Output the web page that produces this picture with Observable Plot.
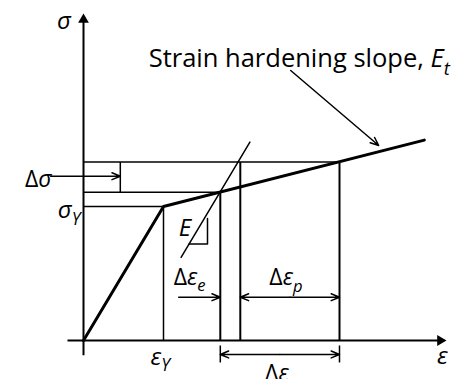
<!DOCTYPE html>
<html>
<head>
<meta charset="utf-8">
<script src="https://cdn.jsdelivr.net/npm/d3@7"></script>
<script src="https://cdn.jsdelivr.net/npm/@observablehq/plot@0.6"></script>
<style>
  html, body { margin: 0; padding: 0; background: #fff; }
  #chart svg { display: block; }
</style>
</head>
<body>
<div id="chart"></div>
<script>
// Bilinear stress–strain model (elastic + linear strain hardening).
// Strain and stress are normalised so that the yield point sits at (1, 1)
// and the elastic modulus E equals 1.

// Bilinear curve: origin -> yield point -> end of hardening branch
const curveStrain = [0, 1, 4.26];
const curveStress = [0, 1, 1.495];

// Yield point
const yieldStrain = 1;
const yieldStress = 1;

// Stress state before (A) and after (B) the load increment
const stateA = {eps: 1.71, sig: 1.107};
const stateB = {eps: 3.2, sig: 1.332};

// Strain at the end of the elastic part of the increment
const epsElastic = 1.96;

// Line of slope E drawn through state A
const elasticLineStrain = [1.22, 2.08];
const elasticLineStress = [0.62, 1.48];

// Small slope triangle on that line
const triangleStrain = [1.55, 1.55, 1.32];
const triangleStress = [0.91, 0.72, 0.72];

// Axis extents (tail, arrow head)
const strainAxis = [-0.2, 4.46];
const stressAxis = [-0.11, 2.394];

// Dimension lines
const dSigTick = 0.46;            // short tick closing the Δσ band
const dSigArrow = {from: -0.41, level: 1.226};
const dEpsLevel = 0.323;          // level of the Δε_e / Δε_p arrows
const dEpsEFrom = 1.19;
const dEpsTotalLevel = -0.104;    // level of the total Δε arrow
const dEpsTickRange = [-0.037, -0.164];

// Pointer from the caption to the hardening branch
const pointerFrom = [2.59, 2.015];
const pointerTo = [3.69, 1.455];

// Label texts: *...* is italic, _x is a subscript
const labels = {
  stress: "*σ*",
  strain: "*ε*",
  yieldStress: "*σ*_Y",
  yieldStrain: "*ε*_Y",
  dSig: "Δ*σ*",
  dEpsE: "Δ*ε*_e",
  dEpsP: "Δ*ε*_p",
  dEps: "Δ*ε*",
  modulus: "*E*",
  caption: "Strain hardening slope, *E*_t"
};

const pairs = (xs, ys) => xs.map((x, i) => [x, ys[i]]);
const seg = ([x1, y1, x2, y2]) => ({x1, y1, x2, y2});

const thinGuides = [
  [0, yieldStress, yieldStrain, yieldStress],
  [0, stateA.sig, stateA.eps, stateA.sig],
  [0, stateB.sig, stateB.eps, stateB.sig],
  [yieldStrain, 0, yieldStrain, yieldStress],
  [dSigTick, stateA.sig, dSigTick, stateB.sig],
  [stateA.eps, dEpsTickRange[0], stateA.eps, dEpsTickRange[1]],
  [stateB.eps, dEpsTickRange[0], stateB.eps, dEpsTickRange[1]]
].map(seg);

const heavyGuides = [
  [stateA.eps, 0, stateA.eps, stateA.sig],
  [epsElastic, 0, epsElastic, stateB.sig],
  [stateB.eps, 0, stateB.eps, stateB.sig]
].map(seg);

const axes = [
  [strainAxis[0], 0, strainAxis[1], 0],
  [0, stressAxis[0], 0, stressAxis[1]]
].map(seg);

const midP = (epsElastic + stateB.eps) / 2;
const midT = (stateA.eps + stateB.eps) / 2;
const arrows = [
  [dSigArrow.from, dSigArrow.level, dSigTick, dSigArrow.level],
  [dEpsEFrom, dEpsLevel, stateA.eps, dEpsLevel],
  [midP, dEpsLevel, epsElastic, dEpsLevel],
  [midP, dEpsLevel, stateB.eps, dEpsLevel],
  [midT, dEpsTotalLevel, stateA.eps, dEpsTotalLevel],
  [midT, dEpsTotalLevel, stateB.eps, dEpsTotalLevel],
  [...pointerFrom, ...pointerTo]
].map(seg);

const linkOpts = {x1: "x1", y1: "y1", x2: "x2", y2: "y2", stroke: "black"};

function label(text, x, y, {size = 24, anchor = "middle", dx = 0, dy = 0} = {}) {
  return Plot.text([text], {
    x: () => x, y: () => y, text: d => d,
    fontSize: size, textAnchor: anchor, lineAnchor: "bottom",
    dx, dy, fill: "black"
  });
}

const chart = Plot.plot({
  width: 458,
  height: 379,
  margin: 0,
  x: {domain: [-1.0375, 4.6875], axis: null},
  y: {domain: [-0.291, 2.537], axis: null},
  style: {fontFamily: "'Open Sans', sans-serif", background: "#fff", color: "black"},
  marks: [
    Plot.link(axes, {...linkOpts, strokeWidth: 2}),
    Plot.dot([[0, stressAxis[1]]], {symbol: "triangle", r: 4, fill: "black", stroke: "none"}),
    Plot.dot([[strainAxis[1], 0]], {symbol: "triangle", r: 4, fill: "black", stroke: "none", rotate: 90}),
    Plot.link(thinGuides, {...linkOpts, strokeWidth: 1.5}),
    Plot.link(heavyGuides, {...linkOpts, strokeWidth: 2}),
    Plot.line(pairs(elasticLineStrain, elasticLineStress), {stroke: "black", strokeWidth: 1.5}),
    Plot.line(pairs(triangleStrain, triangleStress), {stroke: "black", strokeWidth: 1.5}),
    Plot.line(pairs(curveStrain, curveStress), {stroke: "black", strokeWidth: 3, strokeLinejoin: "miter"}),
    Plot.arrow(arrows, {...linkOpts, strokeWidth: 1.5, headLength: 9, headAngle: 45}),

    label(labels.stress, 0, stressAxis[1], {dx: -19.5, dy: 9}),
    label(labels.strain, strainAxis[1], 0, {dx: 2, dy: 23}),
    label(labels.yieldStress, 0, yieldStress, {anchor: "end", dx: -3, dy: 12}),
    label(labels.yieldStrain, yieldStrain, 0, {anchor: "start", dx: -13, dy: 24}),
    label(labels.dSig, dSigArrow.from, dSigArrow.level, {size: 23, anchor: "end", dx: 1, dy: 11}),
    label(labels.modulus, triangleStrain[2], triangleStress[2], {anchor: "end", dx: 2, dy: -8.5}),
    label(labels.dEpsE, dEpsEFrom, dEpsLevel, {size: 23, anchor: "start", dx: -5, dy: -12.5}),
    label(labels.dEpsP, midP, dEpsLevel, {size: 23, dx: -4, dy: -12}),
    label(labels.dEps, midT, dEpsTotalLevel, {size: 23, dx: -3, dy: 27}),
    label(labels.caption, ...pointerFrom, {size: 25.5, anchor: "start", dx: -142, dy: -3})
  ]
});

// Turn the light markup (*italic*, _subscript) into tspans
const SVGNS = "http://www.w3.org/2000/svg";
chart.querySelectorAll("text").forEach(t => {
  const s = t.textContent;
  if (!/[*_]/.test(s)) return;
  const [main, sub] = s.split("_");
  t.textContent = "";
  main.split("*").forEach((run, i) => {
    if (!run) return;
    const ts = document.createElementNS(SVGNS, "tspan");
    if (i % 2) ts.setAttribute("font-style", "italic");
    ts.textContent = run;
    t.appendChild(ts);
  });
  if (sub) {
    const ts = document.createElementNS(SVGNS, "tspan");
    ts.setAttribute("font-style", "italic");
    ts.setAttribute("font-size", "0.72em");
    ts.setAttribute("dy", "0.4em");
    ts.textContent = sub;
    t.appendChild(ts);
  }
});

document.getElementById("chart").appendChild(chart);
</script>
</body>
</html>
